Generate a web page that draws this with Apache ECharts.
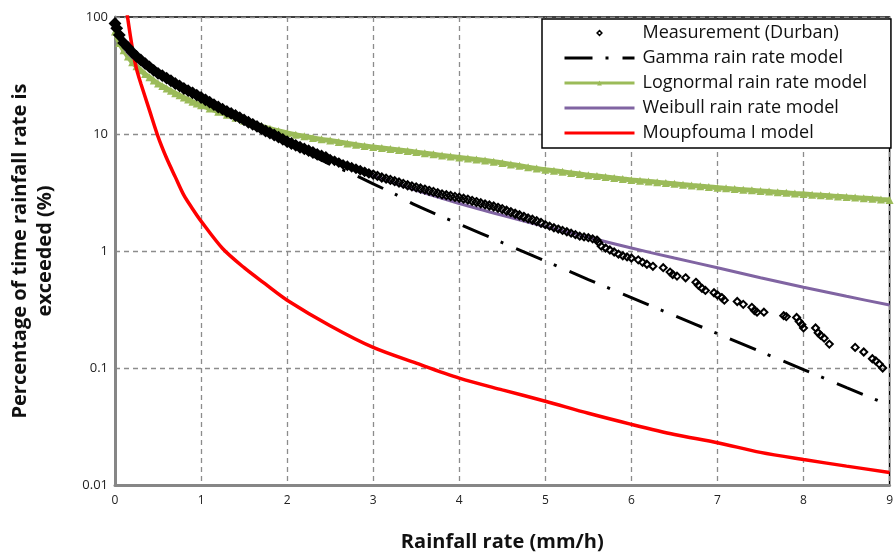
<!DOCTYPE html>
<html><head><meta charset="utf-8">
<script src="https://cdn.jsdelivr.net/npm/echarts@6/dist/echarts.min.js"></script>
<style>html,body{margin:0;padding:0;background:#fff}#c{width:896px;height:557px}</style>
</head><body><div id="c"></div>
<script>
const seriesNames = ['Measurement (Durban)','Gamma rain rate model','Lognormal rain rate model','Weibull rain rate model','Moupfouma I model'];
const xTitle = 'Rainfall rate (mm/h)';
const yTitle = 'Percentage of time rainfall rate is\nexceeded (%)';

const measurement = [
[0,88],[0.02,80],[0.05,70],[0.1,60],[0.15,55],[0.2,50],[0.25,46],[0.3,43],[0.35,40],[0.4,37.5],[0.45,35],
[0.5,33],[0.55,31.5],[0.6,30],[0.65,28.5],[0.7,27],[0.75,25.8],[0.8,24.5],[0.85,23.5],[0.9,22.5],[0.95,21.5],
[1.0,20.5],[1.05,19.6],[1.1,18.7],[1.15,17.8],[1.2,17],[1.25,16.3],[1.3,15.6],[1.35,15],[1.4,14.4],[1.45,13.8],
[1.5,13.2],[1.55,12.6],[1.6,12.1],[1.65,11.6],[1.7,11.1],[1.75,10.6],[1.8,10.2],[1.85,9.8],[1.9,9.4],[1.95,9.0],
[2.0,8.6],[2.05,8.3],[2.1,8.0],[2.15,7.7],[2.2,7.45],[2.25,7.2],[2.3,6.95],[2.35,6.7],[2.4,6.5],[2.45,6.3],
[2.5,6.1],[2.55,5.9],[2.6,5.7],[2.65,5.5],[2.7,5.35],[2.75,5.2],[2.8,5.05],[2.85,4.9],[2.9,4.75],[2.95,4.6],
[3.0,4.5],[3.05,4.38],[3.1,4.25],[3.15,4.15],[3.2,4.05],[3.25,3.95],[3.3,3.85],[3.35,3.75],[3.4,3.65],[3.45,3.57],
[3.5,3.5],[3.55,3.42],[3.6,3.35],[3.65,3.27],[3.7,3.2],[3.75,3.12],[3.8,3.05],[3.85,3.0],[3.9,2.95],[3.95,2.9],
[4.0,2.85],[4.05,2.8],[4.1,2.75],[4.15,2.68],[4.2,2.62],[4.25,2.56],[4.3,2.5],[4.35,2.45],[4.4,2.4],[4.45,2.34],
[4.5,2.28],[4.55,2.21],[4.6,2.15],[4.65,2.08],[4.7,2.02],[4.75,1.96],[4.8,1.9],[4.85,1.85],[4.9,1.8],[4.95,1.74],
[5.0,1.68],[5.05,1.63],[5.1,1.58],[5.15,1.54],[5.2,1.5],[5.25,1.46],[5.3,1.42],[5.35,1.38],[5.4,1.34],[5.45,1.32],
[5.5,1.3],[5.55,1.27],[5.6,1.24],[5.62,1.18],[5.65,1.1],[5.7,1.06],[5.75,1.02],[5.8,0.98],[5.85,0.94],[5.9,0.91],
[5.95,0.89],[6.0,0.87],[6.08,0.84],[6.13,0.8],[6.18,0.77],[6.25,0.74],[6.37,0.72],[6.45,0.66],[6.48,0.63],[6.53,0.61],
[6.63,0.59],[6.75,0.54],[6.78,0.51],[6.82,0.48],[6.86,0.46],[6.96,0.44],[7.0,0.42],[7.05,0.4],[7.08,0.38],[7.23,0.37],
[7.3,0.35],[7.4,0.33],[7.43,0.31],[7.46,0.30],[7.54,0.30],[7.77,0.28],[7.8,0.275],[7.92,0.27],[7.95,0.25],[7.98,0.235],
[8.0,0.22],[8.14,0.22],[8.17,0.2],[8.2,0.19],[8.24,0.18],[8.3,0.16],[8.6,0.15],[8.7,0.137],[8.8,0.12],[8.84,0.115],
[8.88,0.108],[8.92,0.1]
];

const gamma = [
[0,85],[0.1,62],[0.25,48],[0.5,35],[0.75,26.5],[1.0,20.5],[1.25,16.2],[1.5,12.9],[1.75,10.4],[2.0,8.3],
[2.25,6.8],[2.5,5.5],[2.75,4.6],[3.0,3.75],[3.25,3.07],[3.5,2.45],[4.0,1.7],[4.5,1.18],[5.0,0.82],[5.5,0.57],
[6.0,0.4],[6.5,0.28],[7.0,0.197],[7.5,0.138],[8.0,0.097],[8.5,0.068],[9.0,0.048]
];

const lognormal = [
[0,75],[0.05,60],[0.1,52],[0.15,46],[0.2,41],[0.25,38],[0.3,35],[0.35,32.5],[0.4,30.5],[0.45,28.7],[0.5,27],
[0.55,25.7],[0.6,24.5],[0.65,23.4],[0.7,22.3],[0.75,21.4],[0.8,20.5],[0.85,19.7],[0.9,18.9],[0.95,18.2],[1.0,17.6],
[1.1,16.5],[1.2,15.5],[1.3,14.6],[1.4,13.8],[1.5,13.0],[1.6,12.3],[1.7,11.7],[1.8,11.1],[1.9,10.6],[2.0,10.2],
[2.1,9.85],[2.2,9.55],[2.3,9.25],[2.4,9.0],[2.5,8.8],[2.6,8.55],[2.7,8.3],[2.8,8.1],[2.9,7.9],[3.0,7.75],
[3.1,7.6],[3.2,7.45],[3.3,7.3],[3.4,7.15],[3.5,7.0],[3.6,6.85],[3.7,6.7],[3.8,6.55],[3.9,6.42],[4.0,6.3],
[4.1,6.18],[4.2,6.06],[4.3,5.94],[4.4,5.8],[4.5,5.65],[4.6,5.5],[4.7,5.35],[4.8,5.2],[4.9,5.07],[5.0,4.95],
[5.1,4.85],[5.2,4.75],[5.3,4.65],[5.4,4.55],[5.5,4.45],[5.6,4.37],[5.7,4.29],[5.8,4.21],[5.9,4.13],[6.0,4.05],
[6.1,3.99],[6.2,3.93],[6.3,3.87],[6.4,3.81],[6.5,3.75],[6.6,3.69],[6.7,3.63],[6.8,3.58],[6.9,3.53],[7.0,3.48],
[7.1,3.43],[7.2,3.38],[7.3,3.34],[7.4,3.3],[7.5,3.26],[7.6,3.22],[7.7,3.18],[7.8,3.14],[7.9,3.1],[8.0,3.07],
[8.1,3.03],[8.2,3.0],[8.3,2.96],[8.4,2.93],[8.5,2.9],[8.6,2.86],[8.7,2.83],[8.8,2.8],[8.9,2.76],[9.0,2.73]
];

const weibull = [
[0,80],[0.1,55],[0.25,42],[0.5,32],[0.75,25],[1.0,20],[1.25,16.3],[1.5,13.3],[1.75,10.9],[2.0,8.9],
[2.25,7.4],[2.5,6.2],[2.75,5.2],[3.0,4.4],[3.5,3.3],[4.0,2.55],[4.5,2.02],[5.0,1.62],[5.5,1.31],[6.0,1.06],
[6.5,0.87],[7.0,0.72],[7.5,0.59],[8.0,0.49],[8.5,0.41],[9.0,0.345]
];

const moupfouma = [
[0.12,140],[0.15,95],[0.2,55],[0.25,36],[0.3,27],[0.4,16],[0.5,9.5],[0.6,6.2],[0.7,4.3],[0.8,3.0],
[0.9,2.3],[1.0,1.8],[1.25,1.05],[1.5,0.72],[1.75,0.52],[2.0,0.38],[2.5,0.23],[3.0,0.15],[3.5,0.11],[4.0,0.082],
[4.5,0.065],[5.0,0.052],[5.5,0.041],[6.0,0.033],[6.5,0.027],[7.0,0.023],[7.5,0.019],[8.0,0.0165],[8.5,0.0145],[9.0,0.0128]
];

const chart = echarts.init(document.getElementById('c'));
const gridDash = {show:true, lineStyle:{color:'#8c8c8c', width:1.3, type:[5,4]}};
const legendData = seriesNames.map(function(n, i){
  return i === 0 ? {name:n, itemStyle:{color:'#fff', borderColor:'#000', borderWidth:1.5}} : {name:n};
});
chart.setOption({
  animation:false,
  backgroundColor:'#fff',
  grid:{left:115, right:3, top:17, bottom:72, show:true, borderColor:'#000', borderWidth:1.5},
  xAxis:{
    type:'value', min:0, max:9, interval:1,
    axisLine:{show:true, onZero:false, lineStyle:{color:'#868686', width:3}},
    axisTick:{show:false},
    axisLabel:{color:'#222', fontFamily:'Open Sans', fontSize:12, margin:10},
    splitLine:gridDash,
    name:xTitle, nameLocation:'middle', nameGap:47,
    nameTextStyle:{fontFamily:'Open Sans', fontWeight:'bold', fontSize:20, color:'#111'}
  },
  yAxis:{
    type:'log', logBase:10, min:0.01, max:100,
    axisLine:{show:true, onZero:false, lineStyle:{color:'#868686', width:3}},
    axisTick:{show:false},
    axisLabel:{color:'#222', fontFamily:'Open Sans', fontSize:13, margin:7},
    splitLine:gridDash,
    name:yTitle, nameLocation:'middle', nameGap:57, nameRotate:90,
    nameTextStyle:{fontFamily:'Open Sans', fontWeight:'bold', fontSize:20, color:'#111', lineHeight:25, align:'center'}
  },
  legend:{
    orient:'vertical', left:542, top:19,
    padding:[4,24,5,21],
    itemWidth:70, itemHeight:6, itemGap:5,
    backgroundColor:'#fff', borderColor:'#000', borderWidth:1.5, borderRadius:0,
    lineStyle:{width:3},
    textStyle:{fontFamily:'Open Sans', fontSize:18, lineHeight:20, color:'#111', padding:[0,0,0,3]},
    data:legendData
  },
  series:[
    {name:seriesNames[0], type:'line', data:measurement, symbol:'diamond',
     symbolSize:function(v){ return v[0] < 2.5 ? 10 : (v[0] < 5.0 ? 8 : 7); },
     showSymbol:true, showAllSymbol:true,
     lineStyle:{opacity:0, width:0},
     itemStyle:{color:function(p){ return p.value && p.value[0] < 3.0 ? '#000' : 'rgba(255,255,255,0)'; },
                borderColor:'#000', borderWidth:2}, z:5},
    {name:seriesNames[1], type:'line', data:gamma, smooth:0.3, showSymbol:false, symbol:'none',
     lineStyle:{color:'#000', width:3, type:[28,13,3,14]}, itemStyle:{color:'#000', opacity:0}, z:6},
    {name:seriesNames[2], type:'line', data:lognormal, smooth:0.3, symbol:'triangle', symbolSize:8, showSymbol:true, showAllSymbol:true,
     lineStyle:{color:'#9BBB59', width:5}, itemStyle:{color:'#9BBB59'}, z:3},
    {name:seriesNames[3], type:'line', data:weibull, smooth:0.3, showSymbol:false, symbol:'none',
     lineStyle:{color:'#8064A2', width:3}, itemStyle:{color:'#8064A2', opacity:0}, z:4},
    {name:seriesNames[4], type:'line', data:moupfouma, smooth:0.3, showSymbol:false, symbol:'none', clip:true,
     lineStyle:{color:'#FF0000', width:3.5}, itemStyle:{color:'#FF0000', opacity:0}, z:4}
  ]
});
</script></body></html>
